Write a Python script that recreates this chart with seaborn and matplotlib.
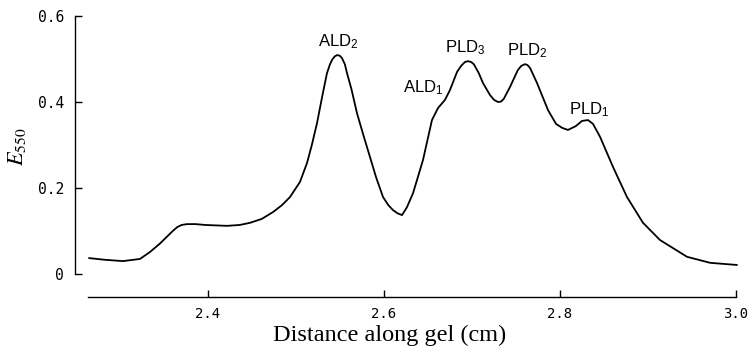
import numpy as np
import pandas as pd
import matplotlib
matplotlib.use("Agg")
import matplotlib.pyplot as plt
import seaborn as sns

# Densitometer trace (distance along gel in cm, extinction at 550 nm)
distance = [2.2648, 2.283, 2.3034, 2.3227, 2.334, 2.345, 2.353, 2.360, 2.365,
            2.370, 2.376, 2.386, 2.397, 2.4216, 2.436, 2.4477, 2.461, 2.4739,
            2.4840, 2.4932, 2.5045, 2.5125, 2.518, 2.5239, 2.530, 2.5352,
            2.5385, 2.541, 2.544, 2.5466, 2.5495, 2.5523, 2.5555, 2.558, 2.563,
            2.5693, 2.577, 2.5841, 2.591, 2.5989, 2.605, 2.610, 2.6155, 2.6205,
            2.626, 2.633, 2.6443, 2.6545, 2.6614, 2.6693, 2.675, 2.683, 2.688,
            2.692, 2.6955, 2.699, 2.702, 2.7075, 2.7125, 2.7205, 2.725, 2.7295,
            2.733, 2.736, 2.7432, 2.752, 2.756, 2.7602, 2.763, 2.766, 2.7739,
            2.7864, 2.7955, 2.8023, 2.809, 2.818, 2.825, 2.8318, 2.8375,
            2.8455, 2.8602, 2.8761, 2.8943, 2.9136, 2.9443, 2.9705, 3.0011]
e550 = [0.037, 0.033, 0.030, 0.035, 0.051, 0.070, 0.086, 0.100, 0.109,
        0.114, 0.116, 0.116, 0.114, 0.112, 0.114, 0.119, 0.128, 0.144,
        0.160, 0.179, 0.214, 0.258, 0.300, 0.351, 0.415, 0.467,
        0.487, 0.498, 0.506, 0.509, 0.508, 0.502, 0.488, 0.467, 0.430,
        0.374, 0.320, 0.272, 0.225, 0.179, 0.160, 0.149, 0.141, 0.137,
        0.155, 0.188, 0.265, 0.358, 0.386, 0.405, 0.428, 0.470, 0.485,
        0.493, 0.495, 0.493, 0.488, 0.468, 0.444, 0.416, 0.405, 0.400,
        0.401, 0.407, 0.435, 0.474, 0.484, 0.488, 0.486, 0.479, 0.444,
        0.381, 0.349, 0.340, 0.335, 0.344, 0.356, 0.358, 0.349,
        0.319, 0.249, 0.179, 0.119, 0.079, 0.040, 0.026, 0.021]

peak_labels = ["ALD$_\\mathregular{2}$", "ALD$_\\mathregular{1}$",
               "PLD$_\\mathregular{3}$", "PLD$_\\mathregular{2}$",
               "PLD$_\\mathregular{1}$"]
peak_x = [2.5477, 2.6443, 2.692, 2.7625, 2.833]
peak_y = [0.528, 0.423, 0.516, 0.509, 0.370]

x_ticks = [2.4, 2.6, 2.8, 3.0]
x_tick_labels = ["2.4", "2.6", "2.8", "3.0"]
y_ticks = [0, 0.2, 0.4, 0.6]
y_tick_labels = ["0", "0.2", "0.4", "0.6"]

sns.set_theme(style="ticks")
plt.rcParams["mathtext.fontset"] = "stix"

df = pd.DataFrame({"distance": distance, "e550": e550})

fig = plt.figure(figsize=(7.5, 3.52), dpi=100)
ax = fig.add_axes([75 / 750, 55 / 352, (737 - 75) / 750, (336 - 55) / 352])

sns.lineplot(data=df, x="distance", y="e550", ax=ax, color="black",
             linewidth=1.3, estimator=None, sort=False)
for ln in ax.lines:
    ln.set_clip_on(False)
    ln.set_solid_joinstyle("round")

ax.set_xlim(2.2489, 3.0011)
ax.set_ylim(-0.0535, 0.6)
ax.set_xticks(x_ticks)
ax.set_xticklabels(x_tick_labels, family="DejaVu Sans Mono", fontsize=10)
ax.set_yticks(y_ticks)
ax.set_yticklabels(y_tick_labels, family="DejaVu Sans Mono", fontsize=10.5)

for s in ["top", "right"]:
    ax.spines[s].set_visible(False)
ax.spines["left"].set_bounds(0, 0.6)
ax.spines["bottom"].set_bounds(2.264, 3.0)
for s in ["left", "bottom"]:
    ax.spines[s].set_linewidth(1.0)
    ax.spines[s].set_color("black")
ax.tick_params(axis="both", direction="in", length=5, width=1.0, color="black",
               labelcolor="black")
ax.tick_params(axis="y", pad=8)
ax.tick_params(axis="x", pad=7)

ax.set_xlabel("Distance along gel (cm)", family="Liberation Serif",
              fontsize=17.5, color="black")
ax.xaxis.set_label_coords((390 - 75) / (737 - 75), -0.098)
ax.set_ylabel("")
fig.text(17 / 750, 1 - 147 / 352, "$E_{550}$", rotation=90, ha="center",
         va="center", fontsize=16, color="black")

for lab, px, py in zip(peak_labels, peak_x, peak_y):
    ax.text(px, py, lab, ha="center", va="baseline", family="Liberation Sans",
            fontsize=12, color="black")

fig.savefig("out.png", dpi=100, facecolor="white")
